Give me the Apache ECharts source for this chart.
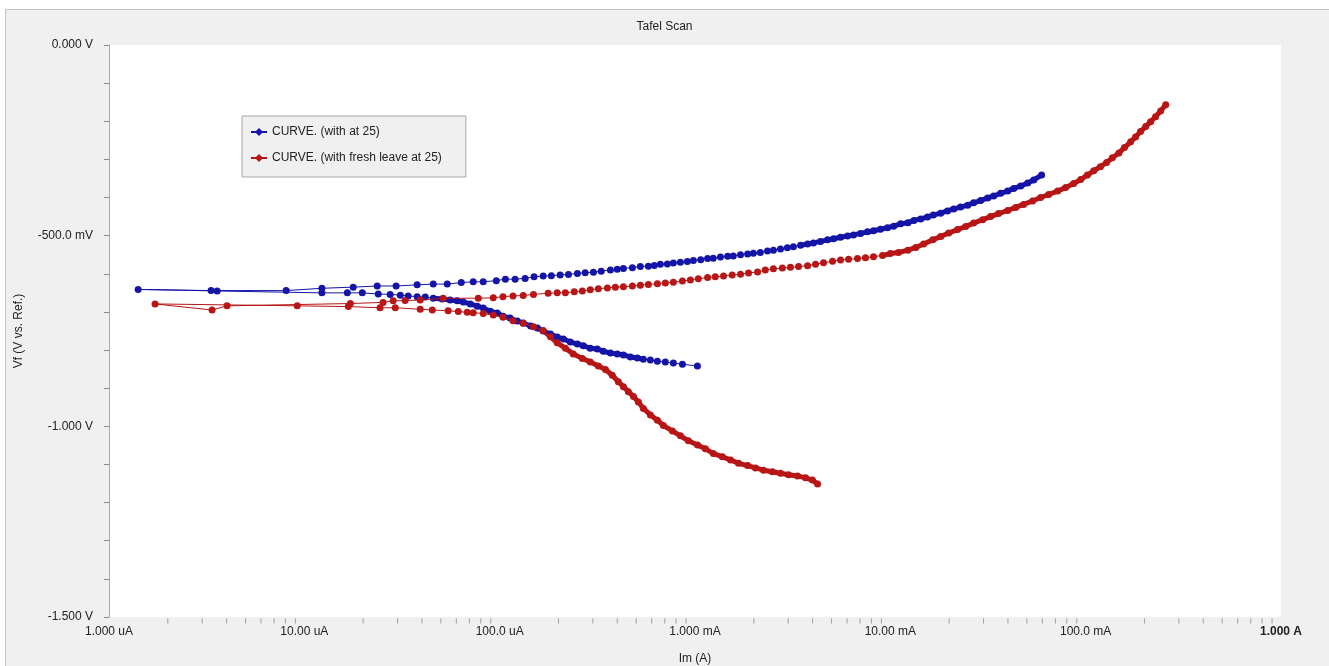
<!DOCTYPE html>
<html>
<head>
<meta charset="utf-8">
<title>Tafel Scan</title>
<script src="https://cdn.jsdelivr.net/npm/echarts@6/dist/echarts.min.js"></script>
<style>
    html, body { margin: 0; padding: 0; background: #fff; }
    #frame {
        position: absolute; left: 5px; top: 9px; width: 1330px; height: 665px;
        background: #f0f0f0; border: 1px solid #c4c4c4;
    }
    #chart { position: absolute; left: 0; top: 0; width: 1329px; height: 666px; }
</style>
</head>
<body>
<div id="frame"></div>
<div id="chart"></div>
<script>
// current (A) and potential (V), in scan order
var blueI = [
    1.029e-3, 8.62e-4, 7.75e-4, 7.05e-4, 6.42e-4, 5.91e-4, 5.44e-4, 5.07e-4, 4.67e-4, 4.30e-4,
    4.00e-4, 3.69e-4, 3.39e-4, 3.16e-4, 2.91e-4, 2.68e-4, 2.50e-4, 2.30e-4, 2.12e-4, 1.97e-4,
    1.82e-4, 1.67e-4, 1.56e-4, 1.44e-4, 1.32e-4, 1.23e-4, 1.13e-4, 1.04e-4, 9.72e-5, 8.95e-5,
    8.24e-5, 7.68e-5, 7.07e-5, 6.51e-5, 6.06e-5, 5.58e-5, 5.08e-5, 4.57e-5, 4.16e-5, 3.78e-5,
    3.40e-5, 3.10e-5, 2.75e-5, 2.39e-5, 1.98e-5, 1.66e-5, 1.23e-5, 3.58e-6, 1.41e-6,
    3.33e-6, 8.07e-6, 1.23e-5, 1.78e-5, 2.36e-5, 2.95e-5, 3.78e-5, 4.57e-5, 5.39e-5, 6.36e-5,
    7.32e-5, 8.24e-5, 9.61e-5, 1.07e-4, 1.20e-4, 1.35e-4, 1.50e-4, 1.67e-4, 1.84e-4, 2.04e-4,
    2.25e-4, 2.50e-4, 2.74e-4, 3.02e-4, 3.31e-4, 3.69e-4, 4.00e-4, 4.30e-4, 4.78e-4, 5.25e-4,
    5.77e-4, 6.19e-4, 6.65e-4, 7.22e-4, 7.75e-4, 8.42e-4, 9.14e-4, 9.81e-4, 1.07e-3, 1.16e-3,
    1.24e-3, 1.35e-3, 1.47e-3, 1.57e-3, 1.71e-3, 1.86e-3, 1.99e-3, 2.16e-3, 2.35e-3, 2.52e-3,
    2.74e-3, 2.97e-3, 3.19e-3, 3.47e-3, 3.77e-3, 4.04e-3, 4.39e-3, 4.77e-3, 5.12e-3, 5.56e-3,
    6.04e-3, 6.48e-3, 7.04e-3, 7.64e-3, 8.20e-3, 8.91e-3, 9.67e-3, 1.04e-2, 1.13e-2, 1.23e-2,
    1.32e-2, 1.43e-2, 1.55e-2, 1.66e-2, 1.81e-2, 1.96e-2, 2.11e-2, 2.29e-2, 2.49e-2, 2.67e-2,
    2.90e-2, 3.15e-2, 3.38e-2, 3.67e-2, 3.99e-2, 4.28e-2, 4.65e-2, 5.05e-2, 5.42e-2, 5.95e-2
]
var blueV = [
    -0.842, -0.837, -0.834, -0.831, -0.829, -0.826, -0.824, -0.821, -0.818, -0.813,
    -0.810, -0.808, -0.803, -0.797, -0.795, -0.789, -0.784, -0.779, -0.771, -0.766,
    -0.758, -0.750, -0.742, -0.737, -0.729, -0.724, -0.716, -0.711, -0.703, -0.698,
    -0.690, -0.685, -0.679, -0.674, -0.671, -0.669, -0.666, -0.664, -0.661, -0.660,
    -0.658, -0.656, -0.654, -0.653, -0.650, -0.650, -0.650, -0.645, -0.641,
    -0.644, -0.644, -0.638, -0.635, -0.632, -0.632, -0.629, -0.627, -0.627, -0.623,
    -0.621, -0.621, -0.618, -0.614, -0.614, -0.612, -0.608, -0.606, -0.605, -0.603,
    -0.602, -0.599, -0.597, -0.596, -0.593, -0.590, -0.588, -0.586, -0.584, -0.581,
    -0.580, -0.578, -0.575, -0.574, -0.572, -0.570, -0.568, -0.565, -0.563, -0.560,
    -0.559, -0.556, -0.554, -0.553, -0.550, -0.548, -0.546, -0.544, -0.540, -0.538,
    -0.535, -0.532, -0.529, -0.525, -0.522, -0.519, -0.515, -0.511, -0.508, -0.504,
    -0.501, -0.498, -0.494, -0.490, -0.487, -0.483, -0.479, -0.475, -0.469, -0.466,
    -0.460, -0.456, -0.451, -0.446, -0.441, -0.435, -0.430, -0.425, -0.420, -0.414,
    -0.408, -0.401, -0.396, -0.389, -0.383, -0.376, -0.370, -0.362, -0.354, -0.341
]
var redI = [
    4.24e-3, 3.99e-3, 3.68e-3, 3.35e-3, 3.01e-3, 2.74e-3, 2.49e-3, 2.24e-3, 2.04e-3, 1.86e-3,
    1.67e-3, 1.52e-3, 1.38e-3, 1.24e-3, 1.13e-3, 1.03e-3, 9.25e-4, 8.42e-4, 7.66e-4, 6.89e-4,
    6.42e-4, 5.91e-4, 5.44e-4, 5.13e-4, 4.84e-4, 4.56e-4, 4.30e-4, 4.05e-4, 3.77e-4, 3.48e-4,
    3.20e-4, 2.91e-4, 2.65e-4, 2.38e-4, 2.17e-4, 1.97e-4, 1.82e-4, 1.67e-4, 1.49e-4, 1.32e-4,
    1.17e-4, 1.04e-4, 9.27e-5, 8.24e-5, 7.32e-5, 6.82e-5, 6.14e-5, 5.45e-5, 4.52e-5, 3.92e-5,
    2.92e-5, 2.44e-5, 1.68e-5, 9.19e-6, 1.72e-6,
    3.37e-6, 4.02e-6, 1.72e-5, 2.53e-5, 2.85e-5, 3.28e-5, 3.92e-5, 5.14e-5, 7.77e-5, 9.27e-5,
    1.04e-4, 1.17e-4, 1.32e-4, 1.49e-4, 1.77e-4, 1.97e-4, 2.17e-4, 2.41e-4, 2.65e-4, 2.91e-4,
    3.20e-4, 3.56e-4, 3.91e-4, 4.30e-4, 4.78e-4, 5.25e-4, 5.77e-4, 6.42e-4, 7.05e-4, 7.75e-4,
    8.62e-4, 9.47e-4, 1.04e-3, 1.16e-3, 1.27e-3, 1.40e-3, 1.55e-3, 1.71e-3, 1.88e-3, 2.09e-3,
    2.29e-3, 2.52e-3, 2.80e-3, 3.08e-3, 3.39e-3, 3.77e-3, 4.14e-3, 4.55e-3, 5.06e-3, 5.56e-3,
    6.11e-3, 6.79e-3, 7.46e-3, 8.20e-3, 9.12e-3, 1.00e-2, 1.10e-2, 1.23e-2, 1.35e-2, 1.48e-2,
    1.65e-2, 1.81e-2, 1.99e-2, 2.21e-2, 2.43e-2, 2.67e-2, 2.97e-2, 3.26e-2, 3.58e-2, 3.99e-2,
    4.38e-2, 4.81e-2, 5.35e-2, 5.88e-2, 6.47e-2, 7.19e-2, 7.90e-2, 8.68e-2, 9.43e-2, 1.02e-1,
    1.10e-1, 1.19e-1, 1.28e-1, 1.37e-1, 1.48e-1, 1.58e-1, 1.70e-1, 1.80e-1, 1.91e-1, 2.03e-1,
    2.15e-1, 2.28e-1, 2.42e-1, 2.57e-1
]
var redV = [
    -1.151, -1.141, -1.135, -1.130, -1.127, -1.123, -1.119, -1.115, -1.109, -1.103,
    -1.097, -1.088, -1.080, -1.071, -1.059, -1.049, -1.038, -1.025, -1.012, -0.998,
    -0.984, -0.970, -0.953, -0.936, -0.922, -0.909, -0.896, -0.883, -0.866, -0.851,
    -0.842, -0.831, -0.822, -0.810, -0.795, -0.781, -0.765, -0.749, -0.739, -0.730,
    -0.723, -0.714, -0.708, -0.704, -0.702, -0.701, -0.699, -0.697, -0.695, -0.693,
    -0.689, -0.689, -0.686, -0.684, -0.679,
    -0.695, -0.684, -0.678, -0.675, -0.671, -0.670, -0.669, -0.664, -0.664, -0.663,
    -0.660, -0.658, -0.657, -0.654, -0.651, -0.650, -0.650, -0.647, -0.645, -0.642,
    -0.639, -0.637, -0.635, -0.634, -0.632, -0.630, -0.628, -0.626, -0.624, -0.622,
    -0.619, -0.616, -0.613, -0.610, -0.608, -0.606, -0.603, -0.601, -0.598, -0.595,
    -0.590, -0.587, -0.585, -0.583, -0.581, -0.579, -0.575, -0.571, -0.567, -0.564,
    -0.562, -0.560, -0.558, -0.555, -0.552, -0.547, -0.544, -0.538, -0.531, -0.522,
    -0.511, -0.502, -0.493, -0.484, -0.476, -0.467, -0.458, -0.450, -0.442, -0.434,
    -0.426, -0.418, -0.409, -0.400, -0.392, -0.383, -0.374, -0.363, -0.353, -0.341,
    -0.330, -0.319, -0.308, -0.296, -0.283, -0.269, -0.254, -0.241, -0.227, -0.214,
    -0.201, -0.188, -0.173, -0.157
]
var seriesNames = ['CURVE. (with at 25)', 'CURVE. (with fresh leave at 25)']
var xDecadeLabels = ['1.000 uA', '10.00 uA', '100.0 uA', '1.000 mA', '10.00 mA', '100.0 mA', '1.000 A']
var yLabels = { '0': '0.000 V', '-500': '-500.0 mV', '-1000': '-1.000 V', '-1500': '-1.500 V' }
var minorMults = [2, 3, 4, 5, 6, 7, 8, 9]
// index runs where the instrument logged points so close they merge into a band
var blueDense = [[6, 38], [102, 139]]
var redDense = [[0, 39], [109, 154]]

var blueColor = '#1414a6'
var redColor = '#b81616'

// points are circles, the legend keeps the series' diamond
function pairs(xs, ys) {
    var out = []
    for (var i = 0; i < xs.length; i++) out.push({ value: [xs[i], ys[i]], symbol: 'circle' })
    return out
}

function bandSeries(name, xs, ys, runs, color) {
    return runs.map(function (r) {
        var d = []
        for (var i = r[0]; i < r[1] && i < xs.length; i++) d.push([xs[i], ys[i]])
        return {
            name: name,
            type: 'line',
            data: d,
            showSymbol: false,
            silent: true,
            color: color,
            lineStyle: { width: 5, color: color, cap: 'round', join: 'round' },
            z: 2
        }
    })
}

// minor log ticks under the x axis (2..9 in each decade)
var minorTicks = []
for (var e = -6; e < 0; e++) {
    minorMults.forEach(function (m) { minorTicks.push([m * Math.pow(10, e), -1.5]) })
}

var font = 'Liberation Sans, Arial, sans-serif'
var chart = echarts.init(document.getElementById('chart'))
chart.setOption({
    backgroundColor: 'transparent',
    animation: false,
    textStyle: { fontFamily: font },
    title: {
        text: 'Tafel Scan',
        left: 'center',
        top: 16,
        textStyle: { fontSize: 12, fontWeight: 'normal', color: '#222', fontFamily: font }
    },
    legend: {
        data: seriesNames,
        orient: 'vertical',
        left: 242,
        top: 116,
        padding: [9, 24, 12, 8],
        itemGap: 12,
        itemWidth: 16,
        itemHeight: 10,
        backgroundColor: '#f0f0f0',
        borderColor: '#a8a8a8',
        borderWidth: 1,
        borderRadius: 0,
        textStyle: { fontSize: 12, color: '#222', fontFamily: font, lineHeight: 14 }
    },
    grid: {
        left: 109, right: 48, top: 45, bottom: 49,
        outerBoundsMode: 'none',
        containLabel: false,
        show: true, backgroundColor: '#fff', borderWidth: 0
    },
    xAxis: {
        type: 'log',
        logBase: 10,
        min: 1e-6,
        max: 1,
        splitNumber: 6,
        name: 'Im (A)',
        nameLocation: 'middle',
        nameGap: 36,
        nameTextStyle: { fontSize: 12, color: '#222' },
        axisLine: { show: false },
        axisTick: { show: false },
        splitLine: { show: false },
        axisLabel: {
            interval: 0,
            margin: 9,
            fontSize: 12,
            color: '#222',
            formatter: function (v) {
                var k = Math.round(Math.log10(v)) + 6
                if (k === 6) return '{b|' + xDecadeLabels[k] + '}'
                return xDecadeLabels[k] || ''
            },
            rich: { b: { fontSize: 12, fontWeight: 'bold', color: '#222' } }
        }
    },
    yAxis: {
        type: 'value',
        min: -1.5,
        max: 0,
        interval: 0.1,
        name: 'Vf (V vs. Ref.)',
        nameLocation: 'middle',
        nameGap: 84,
        nameRotate: 90,
        nameTextStyle: { fontSize: 12, color: '#222' },
        axisLine: { show: true, lineStyle: { color: '#a8a8a8', width: 1 } },
        axisTick: { show: true, length: 5, lineStyle: { color: '#8a8a8a' } },
        splitLine: { show: false },
        axisLabel: {
            margin: 16,
            fontSize: 12,
            color: '#222',
            formatter: function (v) {
                return yLabels[String(Math.round(v * 1000))] || ''
            }
        }
    },
    series: [
        {
            name: seriesNames[0],
            type: 'line',
            data: pairs(blueI, blueV),
            symbol: 'diamond',
            symbolSize: 7,
            showAllSymbol: true,
            color: blueColor,
            lineStyle: { width: 1, color: blueColor },
            itemStyle: { color: blueColor },
            z: 3
        },
        {
            name: seriesNames[1],
            type: 'line',
            data: pairs(redI, redV),
            symbol: 'diamond',
            symbolSize: 7,
            showAllSymbol: true,
            color: redColor,
            lineStyle: { width: 1, color: redColor },
            itemStyle: { color: redColor },
            z: 4
        },
        {
            name: 'minor ticks',
            type: 'scatter',
            data: minorTicks,
            symbol: 'rect',
            symbolSize: [1, 5],
            symbolOffset: [0, 4],
            clip: false,
            silent: true,
            itemStyle: { color: '#8a8a8a' },
            z: 1
        }
    ].concat(
        bandSeries(seriesNames[0], blueI, blueV, blueDense, blueColor),
        bandSeries(seriesNames[1], redI, redV, redDense, redColor)
    )
})
</script>
</body>
</html>
